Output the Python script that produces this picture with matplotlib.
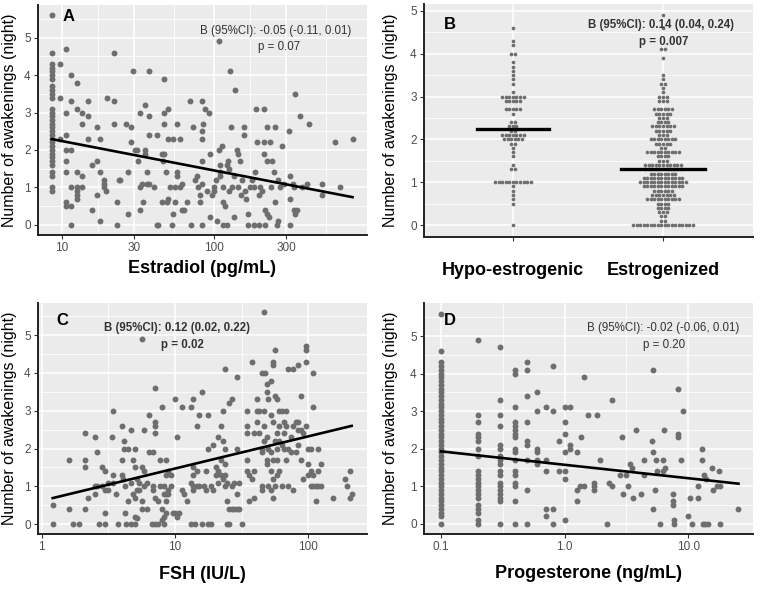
import numpy as np
import matplotlib
matplotlib.use('Agg')
from matplotlib import pyplot as plt
from matplotlib.ticker import FixedLocator, NullFormatter

plt.rcParams['font.family'] = ['Liberation Sans', 'DejaVu Sans']

# ---- panel A: estradiol ----
estradiol = [8.6] * 31 + [
    9.75, 9.75, 9.75, 10.7, 10.7, 10.7, 10.7, 10.7, 10.7, 10.7, 10.7,
    11.6, 11.6, 11.6, 11.6, 11.6, 11.6, 12.7, 12.7, 12.7, 12.7, 12.7, 12.7, 12.7,
    13.7, 13.7, 13.7, 13.7, 14.8, 14.8, 14.8, 15.9, 15.9, 17.0, 17.0, 17.0,
    17.9, 17.9, 17.9, 19.0, 19.0, 19.0, 19.6, 20.0, 22.1, 22.1, 22.1,
    23.1, 23.1, 23.7, 24.3, 26.4, 27.5, 27.5, 28.5, 28.5, 29.4,
    30.5, 31.3, 31.6, 32.8, 32.8, 32.8, 33.7, 34.5, 35.4, 35.4, 35.4,
    36.3, 36.3, 37.8, 37.8, 37.8, 37.8, 40.8, 42.3, 42.3, 43.4,
    46.1, 46.1, 46.8, 47.5, 47.5, 47.5, 47.5, 48.5, 49.2, 50.5,
    50.5, 50.5, 51.8, 53.1, 54.5, 55.8, 54.5, 55.8, 57.3, 57.3, 57.3,
    60.3, 60.3, 61.8, 61.8, 64.4, 66.7, 70.2, 71.3, 73.8, 75.7, 77.6,
    79.6, 80.9, 81.7, 83.8, 83.8, 83.8, 83.8, 83.8, 83.8, 85.9,
    88.1, 90.3, 92.7, 95.0, 95.0, 97.5, 100, 100, 104, 105, 108,
    108, 110, 111, 111, 113, 115, 116, 116, 119, 122, 122, 124, 126,
    127, 129, 130, 132, 136, 136, 139, 143, 144, 146, 150, 151, 154,
    158, 158, 162, 164, 170, 170, 175, 179, 184, 184, 188, 191, 193,
    198, 198, 203, 208, 214, 214, 216, 219, 219, 225, 225, 225, 231,
    234, 239, 243, 249, 255, 255, 262, 268, 268, 275,
    282, 290, 312, 317, 317, 320, 333, 337, 337, 345, 345, 354,
    372, 382, 412, 423, 517, 517, 634, 677, 824]
awake_a = [
    5.6, 4.6, 4.3, 4.2, 4.1, 4.0, 3.9, 3.7, 3.6, 3.5, 3.4, 3.1, 3.0, 2.9, 2.8, 2.7,
    2.6, 2.5, 2.4, 2.3, 2.2, 2.1, 2.0, 1.9, 1.8, 1.7, 1.6, 1.4, 1.3, 1.0, 0.9] + [
    4.3, 3.4, 2.3, 4.7, 3.0, 2.4, 2.0, 1.7, 1.4, 0.6, 0.5,
    4.0, 3.3, 2.0, 1.0, 0.5, 0.0, 3.8, 3.1, 1.4, 1.0, 0.9, 0.8, 0.7,
    3.0, 2.7, 1.3, 1.0, 3.3, 2.9, 2.3, 1.6, 0.4, 2.6, 1.7, 0.8,
    2.3, 1.4, 0.1, 1.2, 1.1, 1.0, 0.9, 3.4, 4.6, 3.3, 2.7,
    0.6, 0.0, 1.2, 1.2, 2.7, 1.4, 0.3, 2.6, 2.2, 4.1,
    2.0, 2.0, 1.7, 3.0, 1.0, 0.4, 1.1, 0.6, 3.2, 2.0, 1.9,
    1.4, 1.1, 4.1, 2.9, 2.4, 1.1, 1.0, 2.4, 0.0, 0.0,
    1.9, 0.6, 1.7, 3.9, 3.0, 2.7, 1.9, 1.4, 0.6, 0.7,
    3.1, 2.3, 1.0, 0.0, 2.3, 1.0, 0.3, 0.6, 2.7, 1.4, 1.3,
    2.3, 1.0, 0.4, 1.1, 0.4, 0.6, 3.3, 0.0, 2.6, 1.2, 1.3,
    1.0, 0.8, 0.6, 3.3, 2.5, 2.3, 1.7, 1.1, 0.0, 2.7,
    3.1, 0.9, 3.0, 0.2, 1.9, 0.8, 0.9, 1.0, 1.2, 0.1, 4.9,
    2.0, 1.4, 1.3, 1.6, 2.1, 1.0, 0.6, 0.0, 0.5, 0.0, 1.6, 1.7, 1.5,
    0.9, 4.1, 2.6, 1.0, 1.3, 0.2, 3.6, 2.0, 1.9, 1.0, 1.7, 0.8, 1.2,
    2.6, 2.4, 0.9, 0.7, 0.0, 0.3, 1.0, 1.2, 0.0, 1.0, 1.4, 3.1, 2.2,
    0.0, 0.8, 1.0, 0.9, 3.1, 2.2, 1.9, 0.0, 0.4, 2.6, 1.7, 0.3, 0.2,
    2.2, 1.0, 1.7, 1.4, 2.6, 0.6, 0.0, 0.1, 1.2, 1.0,
    2.1, 1.1, 2.5, 1.3, 0.7, 0.0, 1.1, 1.0, 0.4, 0.3, 3.5, 0.4,
    2.9, 1.0, 1.1, 2.7, 1.1, 0.8, 2.2, 1.0, 2.3]
fit_a_x = [8.6, 824]
fit_a_y = [2.29, 0.74]

# ---- panel B: estrogen status ----
groups = ['Hypo-estrogenic', 'Estrogenized']
hypo_vals = [4.6, 4.3, 4.2, 4.0, 3.8, 3.7, 3.6, 3.5, 3.4, 3.3, 3.1, 3.0, 2.9, 2.7, 2.6,
             2.4, 2.3, 2.2, 2.1, 2.0, 1.9, 1.8, 1.7, 1.6, 1.4, 1.3, 1.0, 0.9, 0.8,
             0.7, 0.6, 0.5, 0.0]
hypo_counts = [1, 1, 1, 2, 1, 1, 1, 1, 1, 1, 1, 7, 5, 5, 1,
               2, 3, 2, 7, 6, 2, 1, 1, 1, 1, 2, 11, 1, 1,
               1, 1, 1, 1]
estr_vals = [4.9, 4.6, 4.1, 3.9, 3.5, 3.4, 3.3, 3.2, 3.1, 3.0, 2.9, 2.7, 2.6, 2.5, 2.4,
             2.3, 2.2, 2.1, 2.0, 1.9, 1.8, 1.7, 1.6, 1.5, 1.4, 1.3, 1.2, 1.1, 1.0,
             0.9, 0.8, 0.7, 0.6, 0.5, 0.4, 0.3, 0.2, 0.1, 0.0]
estr_counts = [1, 1, 2, 1, 1, 1, 2, 1, 1, 3, 3, 6, 5, 3, 4,
               7, 5, 3, 8, 5, 2, 10, 4, 3, 11, 11, 8, 12, 14,
               12, 6, 7, 10, 4, 4, 3, 2, 2, 18]
group_means = [2.25, 1.30]

# ---- panel C: FSH ----
fsh = [
    1.21, 1.21, 1.61, 1.61, 1.71, 1.92, 2.11, 2.11, 2.11, 2.11, 2.24,
    2.51, 2.51, 2.51, 2.62, 2.62, 2.71, 2.82, 2.82, 2.99, 2.99, 2.99, 2.99,
    3.16, 3.16, 3.35, 3.41, 3.41, 3.41, 3.61, 3.76, 3.98, 3.98, 3.98, 4.05,
    4.15, 4.15, 4.2, 4.2, 4.29, 4.47, 4.47, 4.65, 4.65, 4.65, 4.81, 4.81,
    5.01, 5.01, 5.01, 5.01, 5.01, 5.22, 5.22, 5.22, 5.40, 5.40,
    5.62, 5.62, 5.62, 5.62, 5.86, 5.86, 5.86, 6.13, 6.13, 6.42, 6.42,
    6.68, 6.88, 6.88, 6.88, 7.08, 7.08, 7.08, 7.08, 7.08, 7.08, 7.50, 7.50,
    7.72, 7.72, 7.94, 7.94, 7.94, 8.27, 8.27, 8.27, 8.27,
    8.56, 8.56, 8.56, 8.56, 8.56, 8.91, 8.91, 8.91, 9.28, 9.28,
    9.61, 10.0, 10.0, 10.4, 10.4, 10.8, 11.2, 11.2, 11.7, 12.2,
    13.1, 13.1, 13.1, 13.6, 13.6, 13.6, 13.6, 13.6, 14.1, 14.7, 14.7, 14.7,
    15.2, 15.2, 15.8, 15.8, 16.5, 17.1, 17.1, 17.8, 17.8, 17.8, 18.5, 18.5,
    19.4, 19.4, 20.3, 20.3, 21.1, 21.1, 21.1, 22.0, 22.0, 22.0, 22.8, 22.8, 22.8,
    23.7, 23.7, 23.7, 23.7, 23.7, 24.7, 24.7, 24.7, 25.6, 25.6, 25.6,
    26.6, 26.6, 26.6, 27.7, 27.7, 29.0, 29.0, 29.0, 29.0, 30.4, 30.4, 31.6,
    34.5, 34.5, 34.5, 34.5, 34.5, 36.1, 36.1, 37.6, 37.6, 39.1, 39.1, 39.1,
    41.0, 41.0, 41.0, 42.9, 42.9, 44.7, 44.7, 44.7, 44.7, 44.7,
    46.5, 46.5, 46.5, 46.5, 47.5, 48.7, 48.7, 48.7, 48.7, 48.7,
    50.1, 50.1, 50.1, 52.2, 52.2, 52.2, 52.2, 52.2,
    54.0, 54.0, 54.0, 54.0, 54.0, 54.0, 56.2, 56.2, 56.2, 56.2,
    58.5, 58.5, 58.5, 58.5, 58.5, 60.6, 60.6, 60.6, 60.6, 63.1, 63.1, 63.1,
    65.7, 65.7, 65.7, 68.0, 68.0, 68.0, 70.8, 70.8, 70.8, 73.7, 73.7,
    77.2, 77.2, 77.2, 80.8, 80.8, 84.1, 84.1, 84.1, 84.1, 87.6, 87.6, 87.6,
    91.7, 91.7, 96.0, 96.0, 96.0, 96.0, 100, 100, 100, 104, 104, 104,
    109, 109, 109, 109, 114, 114, 119, 119, 119, 124, 124,
    152, 188, 194, 205, 205, 211]
awake_c = [
    0.5, 0.0, 1.7, 0.4, 0.0, 0.0, 2.4, 1.7, 1.5, 0.4, 0.7,
    2.3, 1.0, 0.8, 1.9, 1.0, 0.0, 1.5, 1.0, 1.4, 0.9, 0.3, 0.0,
    1.1, 0.9, 2.3, 3.0, 1.3, 1.1, 0.8, 0.0, 1.3, 2.6, 1.7, 1.2,
    2.2, 2.0, 1.0, 0.3, 0.0, 0.6, 2.0, 2.5, 1.1, 0.0, 0.8, 1.7,
    2.0, 1.5, 0.7, 0.2, 0.0, 0.9, 1.2, 0.15, 0.9, 1.1,
    4.9, 1.5, 0.6, 0.4, 2.5, 1.4, 1.0, 0.4, 1.1, 2.9, 1.9,
    0.0, 1.9, 1.0, 0.9, 3.6, 2.7, 2.6, 2.4, 0.7, 0.0, 0.6, 0.0,
    1.7, 1.0, 3.1, 0.4, 0.1, 1.0, 0.8, 0.2, 0.0,
    1.7, 1.3, 0.8, 0.6, 0.3, 1.4, 0.9, 0.8, 1.3, 1.0,
    0.3, 3.3, 0.3, 2.3, 0.2, 0.3, 3.1, 0.9, 0.8, 0.6,
    3.1, 1.1, 0.0, 3.3, 1.0, 1.3, 1.5, 0.9, 0.0, 2.6, 1.0, 1.4,
    2.9, 1.0, 3.5, 0.0, 1.0, 1.4, 0.9, 2.9, 2.0, 0.0, 1.0, 0.0,
    2.1, 0.9, 1.5, 1.3, 1.4, 1.1, 2.3, 1.3, 1.7, 2.6, 3.0, 1.2, 2.2,
    4.1, 1.0, 2.0, 1.6, 1.3, 1.1, 0.6, 0.0, 3.2, 0.4, 0.0,
    3.3, 0.4, 1.0, 0.4, 1.1, 3.9, 2.0, 0.4, 0.8, 1.1, 0.4, 0.0,
    3.0, 2.6, 2.4, 1.4, 1.7, 1.3, 0.6, 4.3, 1.2, 2.4, 1.4, 0.7,
    3.0, 3.3, 2.7, 2.4, 3.0, 4.0, 2.0, 1.9, 1.0, 0.9,
    5.6, 3.0, 2.6, 2.2, 4.0, 3.5, 3.7, 2.3, 1.7, 1.6,
    2.0, 3.3, 1.0, 3.8, 1.9, 1.4, 0.9, 2.9,
    4.2, 4.3, 2.7, 1.7, 1.2, 0.7, 4.6, 3.4, 2.2, 1.0,
    3.3, 2.4, 2.0, 1.7, 1.3, 3.0, 2.6, 2.2, 1.4, 3.0, 2.1, 1.0,
    2.7, 2.4, 2.0, 3.0, 2.6, 1.7, 4.1, 1.0, 2.0, 2.3, 1.9,
    4.1, 2.6, 0.9, 1.9, 2.7, 2.7, 2.5, 2.1, 4.2, 3.4, 2.5, 1.7,
    1.2, 2.4, 4.7, 4.6, 4.3, 2.6, 2.0, 1.6, 1.3, 2.0, 1.0, 1.4,
    4.0, 3.1, 1.0, 1.3, 0.6, 1.0, 2.0, 1.4, 1.0, 1.6, 1.0,
    0.7, 1.2, 1.0, 1.4, 0.7, 0.8]
fit_c_x = [1.21, 211]
fit_c_y = [0.69, 2.60]

# ---- panel D: progesterone ----
prog_col_01 = [0.0, 0.2, 0.3, 0.4, 0.5, 0.6, 0.7, 0.8, 0.9, 1.0, 1.1, 1.2, 1.3, 1.4, 1.5,
               1.6, 1.7, 1.8, 1.9, 2.0, 2.1, 2.2, 2.3, 2.4, 2.5, 2.6, 2.7, 2.8, 2.9,
               3.0, 3.1, 3.2, 3.3, 3.4, 3.5, 3.6, 3.7, 3.8, 3.9, 4.0, 4.1, 4.2, 4.3,
               4.6, 5.6]
prog_col_02 = [4.9, 2.9, 2.7, 2.4, 2.3, 2.2, 2.0, 1.8, 1.4, 1.3, 1.2, 1.1, 1.0, 0.9,
               0.8, 0.7, 0.5, 0.4, 0.3, 0.1, 0.0]
prog_col_03 = [4.7, 3.3, 2.9, 2.6, 2.1, 2.0, 1.8, 1.7, 1.6, 1.4, 1.3, 1.1, 1.0, 0.9,
               0.8, 0.7, 0.6, 0.0]
prog_col_04 = [4.1, 4.0, 3.1, 2.7, 2.6, 2.5, 2.4, 2.3, 2.0, 1.9, 1.7, 1.4, 1.3, 1.1,
               1.0, 0.6, 0.0]
prog_col_05 = [4.3, 4.1, 3.4, 2.7, 2.2, 2.1, 1.7, 0.9, 0.0]
prog_col_06 = [3.5, 3.0, 2.0, 1.9, 1.7, 1.6]
prog_col_07 = [3.1, 1.7, 1.4, 0.4, 0.2]
prog_col_08 = [4.2, 3.0, 0.4, 0.0]
prog_col_09 = [2.2, 1.4]
prog_col_10 = [3.1, 2.7, 2.4, 1.9, 1.4, 1.2, 0.1]
prog_col_11 = [3.1, 2.1, 2.0]
prog_other = [1.25, 1.25, 1.25, 1.33, 1.35, 1.43, 1.43, 1.55, 1.84, 1.93,
              1.73, 1.73, 1.73, 2.21, 2.30, 2.40, 2.40, 2.89, 2.80, 2.98, 3.13,
              3.27, 3.38, 3.48, 3.59, 3.77, 4.14, 4.41, 4.41,
              5.05, 5.15, 5.15, 5.21, 5.38, 5.48, 5.55, 5.90, 6.20, 6.28, 6.40, 6.48,
              7.47, 7.47, 7.56, 7.66, 7.66, 8.20, 8.30, 8.30, 8.72, 9.11,
              10.0, 10.3, 10.6, 12.0, 12.0, 12.8, 12.8, 13.5, 13.9, 13.1, 14.5, 13.6,
              15.5, 15.9, 16.9, 17.8, 18.0, 18.0, 25.4]
awake_other = [1.9, 0.9, 0.6, 1.0, 2.3, 1.0, 3.9, 2.9, 2.9, 1.7,
               1.0, 0.9, 1.1, 0.0, 1.1, 1.0, 3.3, 2.3, 1.3, 0.8, 1.3,
               1.0, 1.6, 1.5, 0.7, 2.5, 0.8, 1.7, 1.3,
               2.2, 1.9, 4.1, 0.4, 0.9, 1.7, 1.4, 0.0, 1.4, 1.7, 2.5, 1.5,
               0.8, 0.6, 0.5, 0.1, 0.0, 2.3, 2.4, 3.6, 1.7, 3.0,
               0.2, 0.7, 0.0, 0.7, 1.0, 2.0, 1.7, 1.3, 1.2, 0.0, 0.0, 0.0,
               1.5, 0.9, 1.0, 1.4, 1.0, 0.0, 0.4]
prog_levels = [0.1, 0.2, 0.3, 0.4, 0.5, 0.6, 0.7, 0.8, 0.9, 1.0, 1.1]
fit_d_x = [0.1, 25.4]
fit_d_y = [1.93, 1.07]

PT = '#6e6e6e'
BG = '#ebebeb'
W, H = 760, 589
DOT = 18


def add_panel(fig, l, t, r, b):
    ax = fig.add_axes([l / W, 1 - b / H, (r - l) / W, (b - t) / H])
    ax.set_facecolor(BG)
    for s in ['top', 'right']:
        ax.spines[s].set_visible(False)
    for s in ['left', 'bottom']:
        ax.spines[s].set_color('#222222')
        ax.spines[s].set_linewidth(1.4)
    ax.tick_params(which='major', length=2.75, width=0.8, color='#333333',
                   labelcolor='#4d4d4d', labelsize=8.5, pad=2.5)
    ax.tick_params(which='minor', length=0)
    ax.set_axisbelow(True)
    ax.grid(which='major', color='white', lw=1.1)
    ax.grid(which='minor', color='white', lw=0.55)
    ax.set_yticks([0, 1, 2, 3, 4, 5])
    ax.yaxis.set_minor_locator(FixedLocator([0.5, 1.5, 2.5, 3.5, 4.5, 5.5]))
    return ax


def annotate(ax, letter, lx, ly, line1, line2, tx, ty, px, py, bold):
    wt = 'bold' if bold else 'normal'
    ax.text(lx, ly, letter, transform=ax.transAxes, fontsize=12, fontweight='bold',
            ha='center', va='center', color='black')
    ax.text(tx, ty, line1, transform=ax.transAxes, fontsize=8.3, fontweight=wt,
            ha='center', va='center', color='#333333')
    ax.text(px, py, line2, transform=ax.transAxes, fontsize=8.3, fontweight=wt,
            ha='center', va='center', color='#333333')


fig = plt.figure(figsize=(7.6, 5.89), dpi=100)
ylab = 'Number of awakenings (night)'

# A
ax = add_panel(fig, 38, 5, 367, 235)
ax.set_xscale('log')
ax.scatter(estradiol, awake_a, s=DOT, color=PT, lw=0, zorder=2)
ax.plot(fit_a_x, fit_a_y, color='black', lw=1.9, zorder=3)
ax.set_xlim(6.98, 1026)
ax.set_ylim(-0.27, 5.87)
ax.xaxis.set_major_locator(FixedLocator([10, 30, 100, 300]))
ax.set_xticklabels(['10', '30', '100', '300'])
ax.xaxis.set_minor_locator(FixedLocator([17.3, 54.8, 173, 548]))
ax.xaxis.set_minor_formatter(NullFormatter())
ax.set_xlabel('Estradiol (pg/mL)', fontsize=13, fontweight='bold')
ax.xaxis.set_label_coords(0.5, -0.109)
ax.set_ylabel(ylab, fontsize=11.5)
ax.yaxis.set_label_coords(-0.063, 0.5)
annotate(ax, 'A', 0.094, 0.952, 'B (95%CI): -0.05 (-0.11, 0.01)', 'p = 0.07',
         0.723, 0.887, 0.733, 0.817, False)

# B
ax = add_panel(fig, 424, 4, 753, 237)
spacing = 0.0235
for gi, (vals, cnts) in enumerate([(hypo_vals, hypo_counts), (estr_vals, estr_counts)]):
    xs, ys = [], []
    for v, n in zip(vals, cnts):
        offs = (np.arange(n) - (n - 1) / 2) * spacing
        xs.extend(gi + offs)
        ys.extend([v] * n)
    ax.scatter(xs, ys, s=7, color=PT, lw=0, zorder=2)
for gi, m in enumerate(group_means):
    hw = 0.24 if gi == 0 else 0.28
    ax.plot([gi - hw, gi + hw], [m, m], color='black', lw=2.4, zorder=3)
ax.set_xlim(-0.593, 1.6)
ax.set_ylim(-0.28, 5.16)
ax.set_xticks([0, 1])
ax.set_xticklabels(groups, fontsize=13, fontweight='bold', color='black')
ax.tick_params(axis='x', pad=15)
ax.set_ylabel(ylab, fontsize=11.5)
ax.yaxis.set_label_coords(-0.078, 0.5)
annotate(ax, 'B', 0.079, 0.91, 'B (95%CI): 0.14 (0.04, 0.24)', 'p = 0.007',
         0.72, 0.91, 0.73, 0.837, True)

# C
ax = add_panel(fig, 38, 303, 367, 534)
ax.set_xscale('log')
ax.scatter(fsh, awake_c, s=DOT, color=PT, lw=0, zorder=2)
ax.plot(fit_c_x, fit_c_y, color='black', lw=1.9, zorder=3)
ax.set_xlim(0.939, 275)
ax.set_ylim(-0.26, 5.85)
ax.xaxis.set_major_locator(FixedLocator([1, 10, 100]))
ax.set_xticklabels(['1', '10', '100'])
ax.xaxis.set_minor_locator(FixedLocator([3.16, 31.6]))
ax.xaxis.set_minor_formatter(NullFormatter())
ax.set_xlabel('FSH (IU/L)', fontsize=13, fontweight='bold')
ax.xaxis.set_label_coords(0.5, -0.14)
ax.set_ylabel(ylab, fontsize=11.5)
ax.yaxis.set_label_coords(-0.063, 0.5)
annotate(ax, 'C', 0.073, 0.926, 'B (95%CI): 0.12 (0.02, 0.22)', 'p = 0.02',
         0.422, 0.892, 0.438, 0.818, True)

# D
ax = add_panel(fig, 424, 303, 753, 534)
ax.set_xscale('log')
cols = [prog_col_01, prog_col_02, prog_col_03, prog_col_04, prog_col_05, prog_col_06,
        prog_col_07, prog_col_08, prog_col_09, prog_col_10, prog_col_11]
for lvl, col in zip(prog_levels, cols):
    ax.scatter([lvl] * len(col), col, s=DOT, color=PT, lw=0, zorder=2)
ax.scatter(prog_other, awake_other, s=DOT, color=PT, lw=0, zorder=2)
ax.plot(fit_d_x, fit_d_y, color='black', lw=1.9, zorder=3)
ax.set_xlim(0.0729, 33.3)
ax.set_ylim(-0.27, 5.88)
ax.xaxis.set_major_locator(FixedLocator([0.1, 1, 10]))
ax.set_xticklabels(['0.1', '1.0', '10.0'])
ax.xaxis.set_minor_locator(FixedLocator([0.316, 3.16]))
ax.xaxis.set_minor_formatter(NullFormatter())
ax.set_xlabel('Progesterone (ng/mL)', fontsize=13, fontweight='bold')
ax.xaxis.set_label_coords(0.5, -0.133)
ax.set_ylabel(ylab, fontsize=11.5)
ax.yaxis.set_label_coords(-0.078, 0.5)
annotate(ax, 'D', 0.079, 0.926, 'B (95%CI): -0.02 (-0.06, 0.01)', 'p = 0.20',
         0.726, 0.892, 0.73, 0.818, False)

fig.savefig('out.png', dpi=100, facecolor='white')
